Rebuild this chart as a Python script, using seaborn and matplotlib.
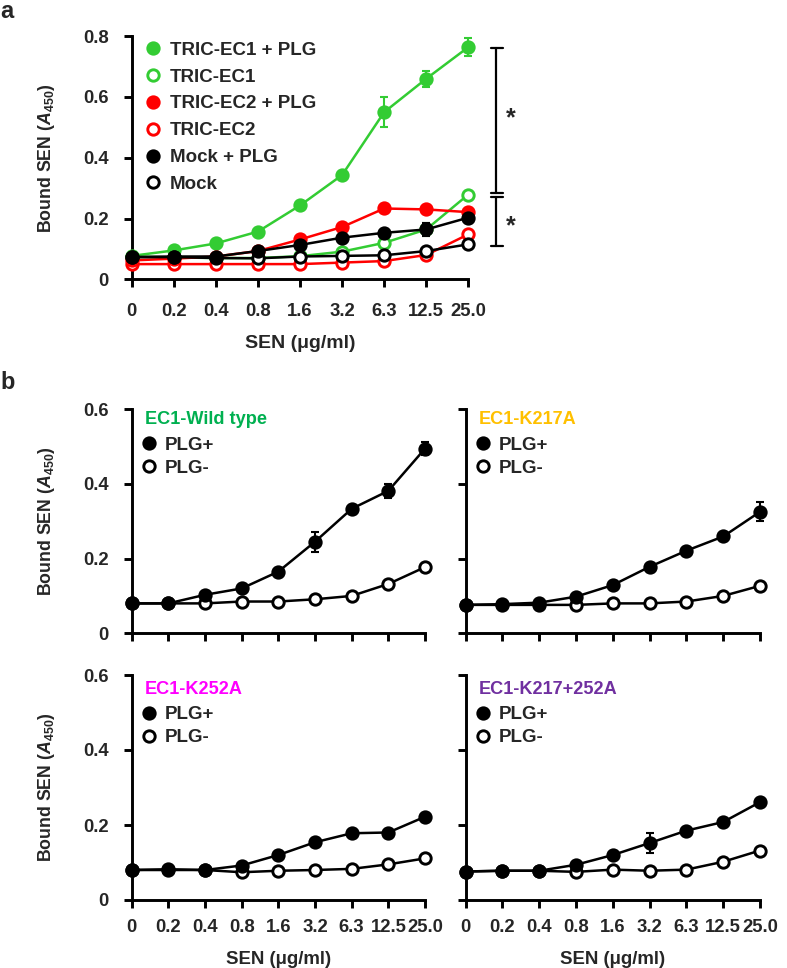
import numpy as np
import pandas as pd
import matplotlib
matplotlib.use("Agg")
import matplotlib.pyplot as plt
from matplotlib.lines import Line2D
import seaborn as sns

# ---------------- data ----------------
conc_labels = ['0', '0.2', '0.4', '0.8', '1.6', '3.2', '6.3', '12.5', '25.0']

# panel a
ec1_plg = [0.077, 0.095, 0.118, 0.157, 0.243, 0.343, 0.55, 0.66, 0.764]
ec1_plg_err = [0, 0, 0, 0, 0, 0, 0.05, 0.027, 0.03]
ec1 = [0.075, 0.072, 0.070, 0.070, 0.076, 0.091, 0.12, 0.164, 0.279]
ec1_err = [0, 0, 0, 0, 0, 0, 0, 0.02, 0]
ec2_plg = [0.062, 0.068, 0.075, 0.093, 0.131, 0.172, 0.233, 0.23, 0.221]
ec2 = [0.05, 0.05, 0.05, 0.05, 0.05, 0.055, 0.06, 0.08, 0.148]
mock_plg = [0.073, 0.075, 0.075, 0.093, 0.113, 0.137, 0.153, 0.164, 0.203]
mock_plg_err = [0, 0, 0, 0, 0, 0, 0, 0.02, 0]
mock = [0.073, 0.073, 0.070, 0.069, 0.075, 0.077, 0.079, 0.093, 0.115]

# panel b
wt_plus = [0.08, 0.08, 0.103, 0.12, 0.165, 0.245, 0.333, 0.381, 0.494]
wt_plus_err = [0, 0, 0, 0, 0, 0.027, 0, 0.019, 0.018]
wt_minus = [0.08, 0.08, 0.08, 0.085, 0.085, 0.091, 0.10, 0.132, 0.177]
k217_plus = [0.076, 0.078, 0.082, 0.098, 0.129, 0.178, 0.221, 0.259, 0.325]
k217_plus_err = [0, 0, 0, 0, 0, 0, 0, 0, 0.025]
k217_minus = [0.076, 0.076, 0.076, 0.076, 0.08, 0.08, 0.085, 0.10, 0.127]
k252_plus = [0.08, 0.082, 0.08, 0.092, 0.12, 0.154, 0.178, 0.18, 0.222]
k252_minus = [0.08, 0.08, 0.08, 0.074, 0.078, 0.08, 0.083, 0.095, 0.111]
kdbl_plus = [0.076, 0.078, 0.078, 0.094, 0.12, 0.152, 0.185, 0.208, 0.261]
kdbl_plus_err = [0, 0, 0, 0, 0, 0.027, 0, 0, 0]
kdbl_minus = [0.076, 0.078, 0.078, 0.075, 0.081, 0.078, 0.081, 0.102, 0.132]

panel_b_titles = ['EC1-Wild type', 'EC1-K217A', 'EC1-K252A', 'EC1-K217+252A']
panel_b_colors = ['#00b050', '#ffc000', '#ff00ff', '#7030a0']

# ---------------- style ----------------
sns.set_style("ticks")
plt.rcParams['font.family'] = ['Liberation Sans', 'DejaVu Sans']
plt.rcParams['font.weight'] = 'bold'
plt.rcParams['axes.labelweight'] = 'bold'
plt.rcParams['mathtext.fontset'] = 'custom'
plt.rcParams['mathtext.rm'] = 'Liberation Sans:bold'
plt.rcParams['mathtext.it'] = 'Liberation Sans:italic:bold'
plt.rcParams['mathtext.bf'] = 'Liberation Sans:bold'

W, H = 787, 968
fig = plt.figure(figsize=(W / 100, H / 100), dpi=100)


def fx(px):
    return px / W


def fy(py):
    return 1 - py / H


def ax_at(x0, y0, x1, y1):
    return fig.add_axes([fx(x0), fy(y1), fx(x1) - fx(x0), (y1 - y0) / H])


pos = np.arange(len(conc_labels))
MS = 8.2
MEW = 2.1
LW = 1.8
TICK_FS = 13.3
ylab = r'Bound SEN ($\mathit{A}_{\mathrm{450}}$)'


def series(ax, vals, color, filled, err=None, z=3):
    df = pd.DataFrame({'x': pos, 'y': vals})
    if err is not None:
        ax.errorbar(df['x'], df['y'], yerr=err, fmt='none', ecolor=color,
                    elinewidth=1.5, capsize=3, capthick=1.5, zorder=z - 0.5,
                    clip_on=False)
    sns.lineplot(data=df, x='x', y='y', ax=ax, color=color, lw=LW, sort=False,
                 marker='o', markersize=MS, markeredgewidth=MEW,
                 markeredgecolor=color,
                 markerfacecolor=color if filled else 'white',
                 errorbar=None, clip_on=False, zorder=z, legend=False)


def style_axes(ax, ymax, yticks, ylabels, show_xlabels, show_ylabels,
               tick_fs, xpad, ypad):
    ax.set_xlim(0, len(conc_labels) - 1)
    ax.set_ylim(0, ymax)
    ax.set_xticks(pos)
    ax.set_yticks(yticks)
    if show_xlabels:
        ax.set_xticklabels(conc_labels, fontsize=tick_fs, fontweight='bold')
    else:
        ax.set_xticklabels([])
    if show_ylabels:
        ax.set_yticklabels(ylabels, fontsize=tick_fs, fontweight='bold')
    else:
        ax.set_yticklabels([])
    sns.despine(ax=ax)
    for s in ['left', 'bottom']:
        ax.spines[s].set_linewidth(2.1)
        ax.spines[s].set_color('black')
    ax.tick_params(axis='both', direction='out', length=5.5, width=2.1,
                   color='black')
    ax.tick_params(axis='x', pad=xpad)
    ax.tick_params(axis='y', pad=ypad)
    ax.set_xlabel('')
    ax.set_ylabel('')


# ---------------- panel a ----------------
axa = ax_at(131.7, 36.2, 468.3, 279.3)
green = '#33cc33'
red = '#ff0000'
series(axa, ec1, green, False, ec1_err, z=3)
series(axa, ec1_plg, green, True, ec1_plg_err, z=3.1)
series(axa, ec2, red, False, None, z=3.2)
series(axa, ec2_plg, red, True, None, z=3.3)
series(axa, mock, 'black', False, None, z=3.4)
series(axa, mock_plg, 'black', True, mock_plg_err, z=3.5)
style_axes(axa, 0.8, [0, 0.2, 0.4, 0.6, 0.8], ['0', '0.2', '0.4', '0.6', '0.8'],
           True, True, TICK_FS, 11.5, 11)
axa.set_xlabel('SEN (\u03bcg/ml)', fontsize=14, fontweight='bold', labelpad=11)
axa.set_ylabel(ylab, fontsize=12.8, fontweight='bold', labelpad=19)

legend_a = [('TRIC-EC1 + PLG', green, True), ('TRIC-EC1', green, False),
            ('TRIC-EC2 + PLG', red, True), ('TRIC-EC2', red, False),
            ('Mock + PLG', 'black', True), ('Mock', 'black', False)]
handles = [Line2D([], [], ls='none', marker='o', markersize=MS,
                  markeredgewidth=MEW, markeredgecolor=c,
                  markerfacecolor=c if f else 'white') for _, c, f in legend_a]
axa.legend(handles, [l for l, _, _ in legend_a], loc='upper left',
           bbox_to_anchor=(fx(143.9), fy(41.5)), bbox_transform=fig.transFigure,
           frameon=False, prop={'weight': 'bold', 'size': 13.5},
           handlelength=1.0, handletextpad=0.39, labelspacing=0.52,
           borderpad=0, borderaxespad=0)

# significance brackets
bx, c0, c1 = 8.67, 8.54, 8.83
kw = dict(color='black', lw=1.6, clip_on=False)
axa.plot([bx, bx], [0.283, 0.76], **kw)
axa.plot([c0, c1], [0.76, 0.76], **kw)
axa.plot([c0, c1], [0.283, 0.283], **kw)
axa.plot([bx, bx], [0.11, 0.27], **kw)
axa.plot([c0, c1], [0.27, 0.27], **kw)
axa.plot([c0, c1], [0.11, 0.11], **kw)
axa.text(9.0, 0.53, '*', fontsize=18, fontweight='bold', ha='center', va='center')
axa.text(9.0, 0.175, '*', fontsize=18, fontweight='bold', ha='center', va='center')

fig.text(0.0, fy(0), 'a', fontsize=17, fontweight='bold', ha='left', va='top')
fig.text(0.0, fy(371), 'b', fontsize=17, fontweight='bold', ha='left', va='top')

# ---------------- panel b ----------------
boxes = [(131.7, 409, 425, 633.3), (465.7, 409, 760, 633.3),
         (131.7, 675, 425, 900), (465.7, 675, 760, 900)]
plus_sets = [(wt_plus, wt_plus_err), (k217_plus, k217_plus_err),
             (k252_plus, None), (kdbl_plus, kdbl_plus_err)]
minus_sets = [wt_minus, k217_minus, k252_minus, kdbl_minus]
title_y = [419.3, 419.3, 689.3, 689.3]
leg_top = [436.5, 436.5, 706, 706]

for i, (x0, y0, x1, y1) in enumerate(boxes):
    ax = ax_at(x0, y0, x1, y1)
    series(ax, minus_sets[i], 'black', False, None, z=3)
    series(ax, plus_sets[i][0], 'black', True, plus_sets[i][1], z=3.2)
    bottom = i >= 2
    left = i % 2 == 0
    style_axes(ax, 0.6, [0, 0.2, 0.4, 0.6], ['0', '0.2', '0.4', '0.6'],
               bottom, left, TICK_FS, 8, 11)
    if bottom:
        ax.set_xlabel('SEN (\u03bcg/ml)', fontsize=13.4, fontweight='bold',
                      labelpad=11)
    if left:
        ax.set_ylabel(ylab, fontsize=12.8, fontweight='bold', labelpad=19)
    fig.text(fx(x0 + 13), fy(title_y[i]), panel_b_titles[i],
             color=panel_b_colors[i], fontsize=13.1, fontweight='bold',
             ha='left', va='center')
    hb = [Line2D([], [], ls='none', marker='o', markersize=MS,
                 markeredgewidth=MEW, markeredgecolor='black',
                 markerfacecolor=fc) for fc in ['black', 'white']]
    ax.legend(hb, ['PLG+', 'PLG-'], loc='upper left',
              bbox_to_anchor=(fx(x0 + 10.1), fy(leg_top[i])),
              bbox_transform=fig.transFigure, frameon=False,
              prop={'weight': 'bold', 'size': 13.5}, handlelength=0.8,
              handletextpad=0.42, labelspacing=0.33, borderpad=0,
              borderaxespad=0)

fig.savefig('out.png', dpi=100)
